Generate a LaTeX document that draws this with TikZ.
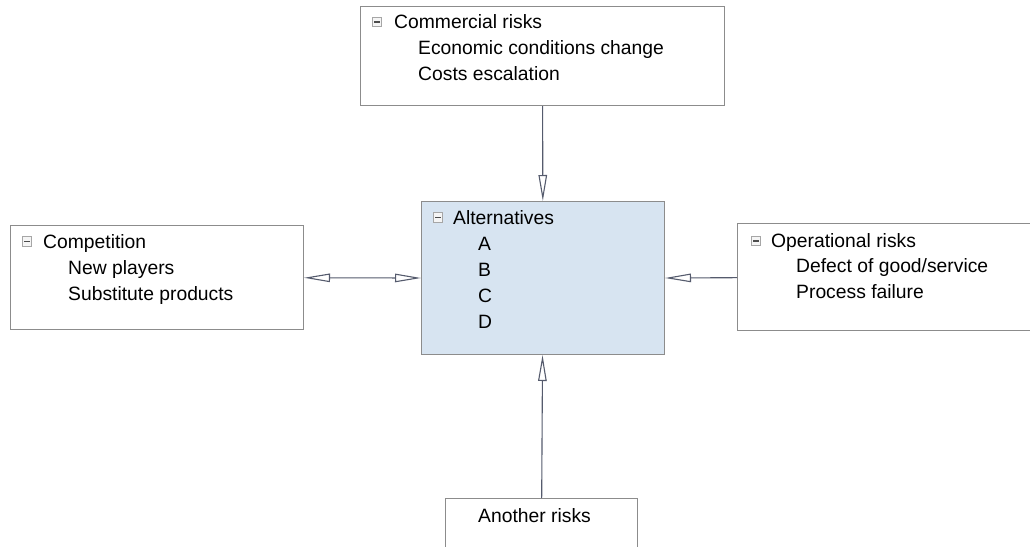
\documentclass[tikz,border=0pt]{standalone}
\usepackage{fontspec}
\setmainfont{Liberation Sans}
\usetikzlibrary{arrows.meta}
\definecolor{altblue}{HTML}{D7E4F1}
\definecolor{framegray}{HTML}{8C8C8C}
\definecolor{linkgray}{HTML}{555B6D}

\begin{document}
\begin{tikzpicture}[x=1pt, y=-1pt,
    box/.style={draw=framegray, line width=1pt, anchor=north west, inner sep=0pt},
    head/.style={anchor=base west, inner sep=0pt, font=\fontsize{19.3}{26}\selectfont},
    item/.style={head},
    minusbox/.style={draw=gray!70, fill=gray!8, line width=0.8pt, minimum size=9.5pt, inner sep=0pt,
        path picture={\draw[gray!60!black, line width=1.1pt] ([xshift=-2.6pt]path picture bounding box.center)
                                                              -- ([xshift=2.6pt]path picture bounding box.center);}},
    tip/.tip={Triangle[open, length=26pt, width=8.5pt]},
    link/.style={draw=linkgray, line width=1.1pt, -tip}]
      \useasboundingbox (0, 0) rectangle (1030, 546);
      \node[box, minimum width=364pt, minimum height=99pt] (commercial) at (360, 6) {};
      \node[box, fill=altblue, minimum width=243pt, minimum height=153pt] (alts) at (421, 201) {};
      \node[box, minimum width=293pt, minimum height=104pt] (competition) at (10, 225) {};
      \node[box, minimum width=300pt, minimum height=107pt] (operational) at (737, 223) {};
      \node[box, minimum width=192pt, minimum height=60pt] (another) at (445, 498) {};

      \node[minusbox] (commercial-icon) at (377, 22) {};
      \node[head] (commercial-title) at (394, 28.5) {Commercial risks};
      \node[item] (commercial-1) at (418, 54.5) {Economic conditions change};
      \node[item] (commercial-2) at (418, 80.5) {Costs escalation};

      \node[minusbox] (alts-icon) at (438, 217.5) {};
      \node[head] (alts-title) at (453, 224) {Alternatives};
      \node[item] (alts-a) at (478, 250) {A};
      \node[item] (alts-b) at (478, 276) {B};
      \node[item] (alts-c) at (478, 302) {C};
      \node[item] (alts-d) at (478, 328) {D};

      \node[minusbox] (competition-icon) at (27, 241.5) {};
      \node[head] (competition-title) at (43, 248) {Competition};
      \node[item] (competition-1) at (68, 274) {New players};
      \node[item] (competition-2) at (68, 300) {Substitute products};

      \node[minusbox] (operational-icon) at (756, 241) {};
      \node[head] (operational-title) at (771, 247) {Operational risks};
      \node[item] (operational-1) at (796, 272.5) {Defect of good/service};
      \node[item] (operational-2) at (796, 298) {Process failure};

      \node[head] (another-title) at (478, 522) {Another risks};

      \draw[link] (commercial) -- (alts);
      \draw[link] (operational) -- (alts.east);
      \draw[link] (another) -- (alts);
      \draw[link, tip-tip] (competition) -- (alts.west);
\end{tikzpicture}
\end{document}
